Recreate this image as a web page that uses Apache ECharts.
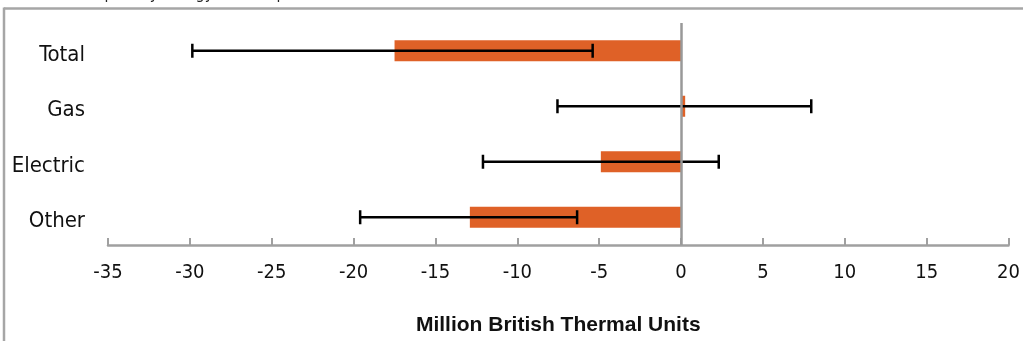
<!DOCTYPE html>
<html>
<head>
<meta charset="utf-8">
<script src="https://cdn.jsdelivr.net/npm/echarts@6/dist/echarts.min.js"></script>
<style>html,body{margin:0;padding:0;background:#fff}#c{width:1023px;height:341px}</style>
</head>
<body>
<div id="c"></div>
<script>
var categories = ['Total', 'Gas', 'Electric', 'Other'];
var savings = [-17.5, 0.25, -4.9, -12.9];
var errLow = [-29.85, -7.55, -12.1, -19.6];
var errHigh = [-5.4, 7.95, 2.3, -6.35];
var xTicks = { min: -35, max: 20, interval: 5 };
var axisTitle = 'Million British Thermal Units';
var chartTitle = 'Estimated Impact by Energy Consumption';

var errData = categories.map(function (c, i) { return [i, errLow[i], errHigh[i]]; });
var COND = '"DejaVu Sans Condensed", "Liberation Sans Narrow", sans-serif';

var chart = echarts.init(document.getElementById('c'), null, { renderer: 'canvas' });
chart.setOption({
  animation: false,
  backgroundColor: '#fff',
  grid: { left: 108, right: 14, top: 23, bottom: 96, containLabel: false },
  graphic: [
    { type: 'line', shape: { x1: 4, y1: 8.5, x2: 1023, y2: 8.5 }, style: { stroke: '#a6a6a6', lineWidth: 2.5 }, silent: true },
    { type: 'line', shape: { x1: 4, y1: 7.5, x2: 4, y2: 341 }, style: { stroke: '#a6a6a6', lineWidth: 2.5 }, silent: true },
    { type: 'text', x: 9, y: 3, style: { text: chartTitle, font: '16px ' + COND, fill: '#222', verticalAlign: 'bottom', align: 'left' }, silent: true }
  ],
  xAxis: {
    type: 'value',
    min: xTicks.min, max: xTicks.max, interval: xTicks.interval,
    splitLine: { show: false },
    axisLine: { show: true, lineStyle: { color: '#a0a0a0', width: 2.5 } },
    axisTick: { show: true, inside: true, length: 7, lineStyle: { color: '#a0a0a0', width: 2 } },
    axisLabel: { margin: 18, color: '#111', fontSize: 20, fontFamily: COND },
    name: axisTitle,
    nameLocation: 'middle',
    nameGap: 70,
    nameTextStyle: { color: '#111', fontSize: 21, fontWeight: 'bold', fontFamily: '"Liberation Sans", Arial, sans-serif' }
  },
  yAxis: {
    type: 'category',
    data: categories,
    inverse: true,
    axisLine: { show: false },
    axisTick: { show: false },
    splitLine: { show: false },
    axisLabel: { margin: 23, color: '#111', fontSize: 22, fontFamily: COND, verticalAlign: 'top', lineHeight: 9 }
  },
  series: [
    {
      type: 'bar',
      data: savings,
      barWidth: 21,
      itemStyle: { color: '#DF6127' },
      z: 2
    },
    {
      type: 'custom',
      data: errData,
      encode: { x: [1, 2], y: 0 },
      z: 3,
      renderItem: function (params, api) {
        var cat = api.value(0);
        var lo = api.coord([api.value(1), cat]);
        var hi = api.coord([api.value(2), cat]);
        var h = 7;
        var st = { stroke: '#000', lineWidth: 2.5 };
        return {
          type: 'group',
          children: [
            { type: 'line', shape: { x1: lo[0], y1: lo[1], x2: hi[0], y2: hi[1] }, style: st },
            { type: 'line', shape: { x1: lo[0], y1: lo[1] - h, x2: lo[0], y2: lo[1] + h }, style: st },
            { type: 'line', shape: { x1: hi[0], y1: hi[1] - h, x2: hi[0], y2: hi[1] + h }, style: st }
          ]
        };
      }
    },
    {
      type: 'line',
      data: [],
      z: 10,
      markLine: {
        silent: true,
        symbol: 'none',
        label: { show: false },
        lineStyle: { color: '#999', width: 2.5, type: 'solid' },
        data: [{ xAxis: 0 }]
      }
    }
  ]
});
</script>
</body>
</html>
